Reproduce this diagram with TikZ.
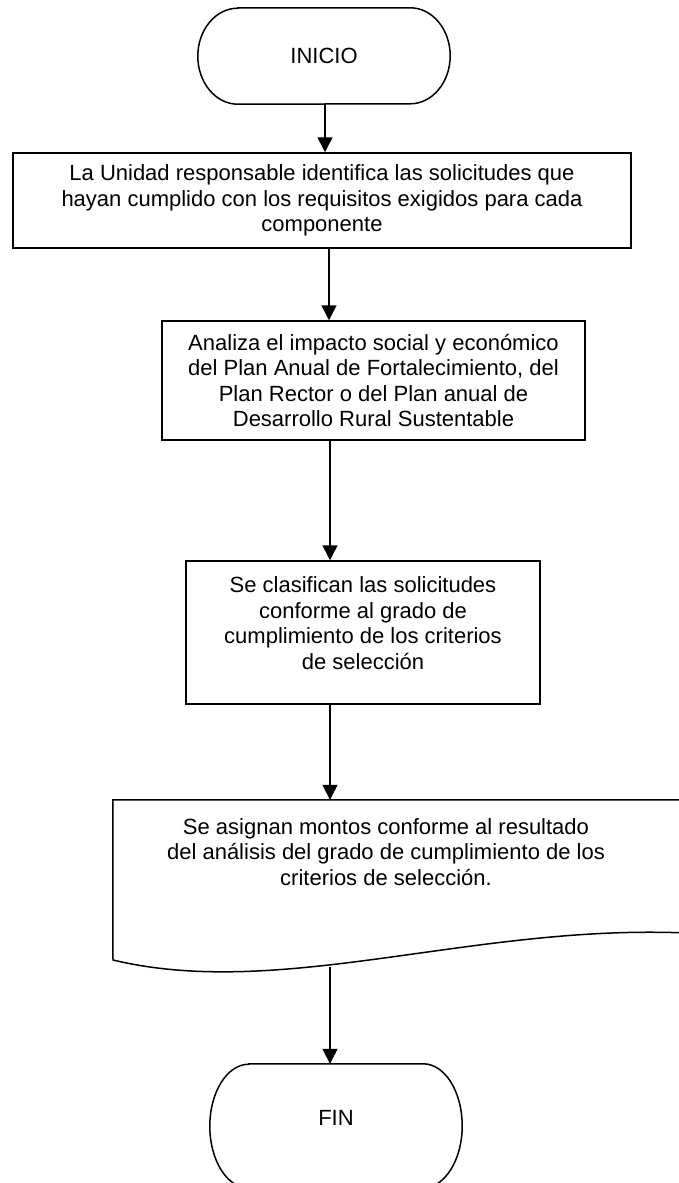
\documentclass[tikz,border=0pt]{standalone}
\usepackage{fontspec}
\setmainfont{Liberation Sans}
\usetikzlibrary{arrows.meta}
\begin{document}
\begin{tikzpicture}[x=1pt,y=-1pt,
  ln/.style={line width=1.5pt},
  arr/.style={ln,-{Triangle[width=15pt,length=15pt]}},
  txt/.style={font=\fontsize{22}{25.5}\selectfont,align=center,inner sep=0pt},
  boxnode/.style={txt,draw,ln,rectangle},
  shapenode/.style={rectangle,inner sep=0pt}]
\useasboundingbox[fill=white] (0,0) rectangle (679,1183);
% INICIO terminator
\node[shapenode,txt,minimum width=252pt,minimum height=96pt] (ini) at (324,56) {INICIO};
\draw[ln] ([xshift=40pt]ini.north west) -- ([xshift=-40pt]ini.north east)
  arc[start angle=90,end angle=-90,x radius=40pt,y radius=48pt]
  -- ([xshift=40pt]ini.south west)
  arc[start angle=270,end angle=90,x radius=40pt,y radius=48pt] -- cycle;
% Box 1
\node[boxnode,minimum width=618pt,minimum height=95pt] (b1) at (322,200.5)
  {La Unidad responsable identifica las solicitudes que\\hayan cumplido con los requisitos exigidos para cada\\componente};
% Box 2
\node[boxnode,minimum width=423pt,minimum height=119pt] (b2) at (373.5,380.5)
  {Analiza el impacto social y económico\\del Plan Anual de Fortalecimiento, del\\Plan Rector o del Plan anual de\\Desarrollo Rural Sustentable};
% Box 3
\node[shapenode,draw,ln,minimum width=354pt,minimum height=143pt] (b3) at (363,632.5) {};
\node[txt] (t3) at (363,623)
  {Se clasifican las solicitudes\\conforme al grado de\\cumplimiento de los criterios\\de selección};
% Document shape
\node[shapenode,minimum width=568pt,minimum height=168pt] (doc) at (397,884) {};
\draw[ln] (doc.north west) -- (doc.north east) -- ++(0,133)
  .. controls (470,925) and (280,1000) .. (113,960) -- cycle;
\coordinate (docbot) at (330,967);
\node[txt] (t4) at (386,852)
  {Se asignan montos conforme al resultado\\del análisis del grado de cumplimiento de los\\criterios de selección.};
% FIN terminator
\node[shapenode,txt,minimum width=252pt,minimum height=124pt] (fin) at (336,1126) {};
\node[txt] (tfin) at (336,1118) {FIN};
\draw[ln] ([xshift=39pt]fin.north west) -- ([xshift=-39pt]fin.north east)
  arc[start angle=90,end angle=-90,x radius=39pt,y radius=62pt]
  -- ([xshift=39pt]fin.south west)
  arc[start angle=270,end angle=90,x radius=39pt,y radius=62pt] -- cycle;
% arrows
\coordinate (xa) at (325,0);
\coordinate (xb) at (329,0);
\coordinate (xc) at (330,0);
\draw[arr] (ini.south -| xa) -- (b1.north -| xa);
\draw[arr] (b1.south -| xb) -- (b2.north -| xb);
\draw[arr] (b2.south -| xc) -- (b3.north -| xc);
\draw[arr] (b3.south -| xc) -- (doc.north -| xc);
\draw[arr] (docbot) -- (fin.north -| docbot);
\end{tikzpicture}
\end{document}
